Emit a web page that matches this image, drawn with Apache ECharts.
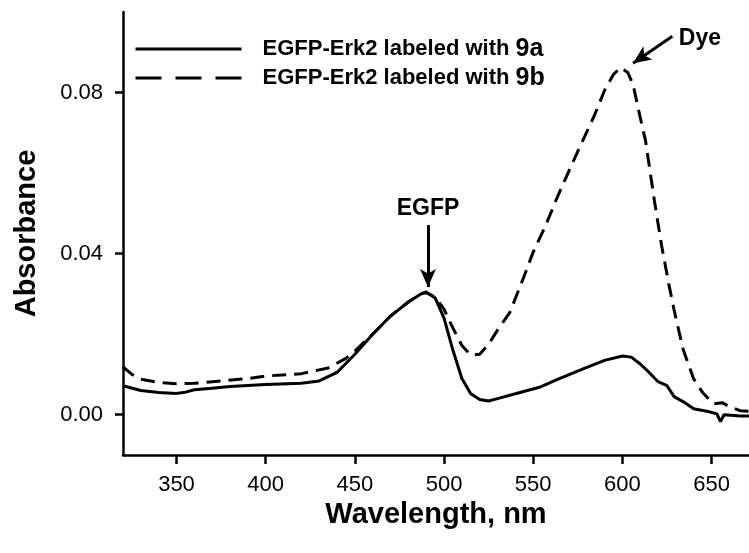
<!DOCTYPE html>
<html><head><meta charset="utf-8">
<script src="https://cdn.jsdelivr.net/npm/echarts@6/dist/echarts.min.js"></script>
<style>html,body{margin:0;padding:0;background:#fff}#c{width:749px;height:553px}</style>
</head><body><div id="c"></div>
<script>
var wavelength9a = [320,330,340,350,355,360,370,380,400,420,430,440,450,460,470,480,487,490,495,500,505,510,515,520,525,530,540,554,565,578,590,600,605,610,615,620,625,629,635,640,648,653,655,657,666,672];
var absorb9a = [0.0072,0.0060,0.0055,0.0053,0.0056,0.0062,0.0066,0.0070,0.0075,0.0078,0.0084,0.0105,0.0150,0.0200,0.0245,0.0280,0.0300,0.0305,0.0290,0.0240,0.0160,0.0090,0.0052,0.0038,0.0034,0.0040,0.0052,0.0069,0.0090,0.0114,0.0135,0.0146,0.0143,0.0126,0.0105,0.0082,0.0072,0.0045,0.0030,0.0015,0.0008,0.0002,-0.0017,0.0000,-0.0003,-0.0003];
var wavelength9b = [320,325,330,340,350,360,375,390,400,420,435,445,450,460,470,480,487,490,495,500,505,510,515,520,525,530,537,545,550,557,563,570,576,584,590,595,599,603,606,609,613,618,622,626,629,634,640,645,651,656,660,666,672];
var absorb9b = [0.0119,0.0100,0.0088,0.0080,0.0077,0.0078,0.0084,0.0090,0.0096,0.0102,0.0116,0.0140,0.0158,0.0200,0.0245,0.0280,0.0300,0.0303,0.0292,0.0262,0.0215,0.0172,0.0148,0.0150,0.0175,0.0210,0.0255,0.0345,0.0404,0.0470,0.0535,0.0605,0.0664,0.0740,0.0805,0.0845,0.0862,0.0850,0.0820,0.0758,0.0680,0.0530,0.0420,0.0325,0.0260,0.0163,0.0089,0.0055,0.0027,0.0030,0.0020,0.0010,0.0008];
var xTicks = [350,400,450,500,550,600,650];
var yTicks = [0, 0.04, 0.08];
var seriesNames = ['EGFP-Erk2 labeled with 9a','EGFP-Erk2 labeled with 9b'];
var egfpArrow = [[491, 0.0471], [491, 0.0317]];
var dyeArrow = [[628, 0.0940], [606, 0.0873]];
var egfpLabel = [491, 0.0511];
var dyeLabel = [643.5, 0.0935];

function zip(a,b){return a.map(function(v,i){return [v,b[i]];});}
var FONT = '"Liberation Sans", Arial, sans-serif';
var chart = echarts.init(document.getElementById('c'), null, {renderer:'canvas'});
chart.setOption({
  animation:false,
  backgroundColor:'#fff',
  grid:{left:123, top:12, right:0, bottom:98, containLabel:false},
  legend:{
    orient:'vertical', left:134, top:36, padding:0, itemWidth:106, itemHeight:26, itemGap:3,
    itemStyle:{opacity:0},
    data:[
      {name:seriesNames[0], lineStyle:{type:'solid', width:3, color:'#000'}},
      {name:seriesNames[1], lineStyle:{type:[26,14], width:3, color:'#000'}}
    ],
    formatter:function(n){return n.replace(/(9[ab])$/, '{b|$1}');},
    textStyle:{fontFamily:FONT, fontWeight:'bold', fontSize:22, lineHeight:26, color:'#000', padding:[0,0,0,16],
      rich:{b:{fontFamily:FONT, fontWeight:'bold', fontSize:25, lineHeight:26, color:'#000'}}}
  },
  xAxis:{
    type:'value', min:320, max:671,
    name:'Wavelength, nm', nameLocation:'middle', nameGap:43,
    nameTextStyle:{fontFamily:FONT, fontWeight:'bold', fontSize:29, color:'#000'},
    axisLine:{show:true, onZero:false, lineStyle:{color:'#000', width:2.5}},
    axisTick:{show:true, inside:false, length:9, customValues:xTicks, lineStyle:{color:'#000', width:2.5}},
    axisLabel:{customValues:xTicks, margin:19, fontFamily:FONT, fontSize:22, color:'#000'},
    splitLine:{show:false}
  },
  yAxis:{
    type:'value', min:-0.01, max:0.1,
    name:'Absorbance', nameLocation:'middle', nameGap:82, nameRotate:90,
    nameTextStyle:{fontFamily:FONT, fontWeight:'bold', fontSize:29, color:'#000'},
    axisLine:{show:true, onZero:false, lineStyle:{color:'#000', width:2.5}},
    axisTick:{show:true, inside:false, length:8, customValues:yTicks, lineStyle:{color:'#000', width:2.5}},
    axisLabel:{customValues:yTicks, margin:20, fontFamily:FONT, fontSize:22, color:'#000',
      formatter:function(v){return v.toFixed(2);}},
    splitLine:{show:false}
  },
  series:[
    {name:seriesNames[0], type:'line', symbol:'none', data:zip(wavelength9a, absorb9a),
     lineStyle:{color:'#000', width:3, type:'solid'}, itemStyle:{color:'#000'}, z:3,
     markLine:{silent:true, symbol:['none','arrow'], symbolSize:[12,18],
       lineStyle:{color:'#000', width:3, type:'solid'}, label:{show:false},
       data:[
         [{coord:egfpArrow[0]},{coord:egfpArrow[1]}],
         [{coord:dyeArrow[0]},{coord:dyeArrow[1]}]
       ]},
     markPoint:{silent:true, symbol:'circle', symbolSize:1, itemStyle:{color:'transparent'},
       label:{show:true, color:'#000', fontFamily:FONT, fontWeight:'bold', fontSize:23, position:'inside'},
       data:[
         {coord:egfpLabel, value:'EGFP', label:{formatter:'EGFP'}},
         {coord:dyeLabel, value:'Dye', label:{formatter:'Dye'}}
       ]}
    },
    {name:seriesNames[1], type:'line', symbol:'none', data:zip(wavelength9b, absorb9b),
     lineStyle:{color:'#000', width:3, type:[14,8]}, itemStyle:{color:'#000'}, z:2}
  ]
});
</script></body></html>
